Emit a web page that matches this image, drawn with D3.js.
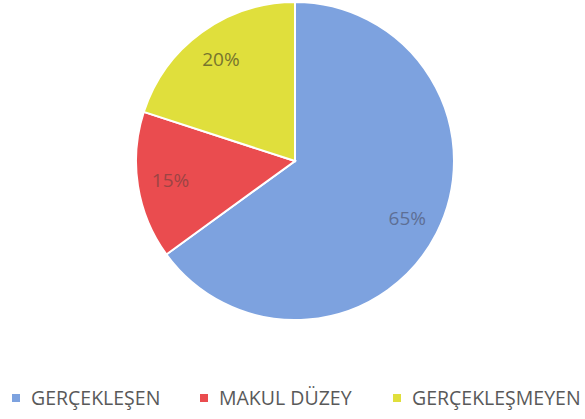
<!DOCTYPE html>
<html>
<head>
<meta charset="utf-8">
<script src="https://cdn.jsdelivr.net/npm/d3@7"></script>
<style>
  body { margin: 0; background: #fff; }
  svg { display: block; }
</style>
</head>
<body>
<svg id="chart" width="585" height="419"></svg>
<script>
const categories = ["GERÇEKLEŞEN", "MAKUL DÜZEY", "GERÇEKLEŞMEYEN"];
const values = [65, 15, 20];
const colors = ["#7da2df", "#ea4c4f", "#e0df3c"];
const labelColors = ["#5d6f95", "#9c4444", "#77752e"];

const svg = d3.select("#chart");
const cx = 295, cy = 161, radius = 159;

const pie = d3.pie().sort(null).value(d => d)(values);
const arc = d3.arc().innerRadius(0).outerRadius(radius);
const labelArc = d3.arc().innerRadius(126).outerRadius(126);

const g = svg.append("g").attr("transform", `translate(${cx},${cy})`);

g.selectAll("path")
  .data(pie)
  .enter().append("path")
  .attr("d", arc)
  .attr("fill", (d, i) => colors[i])
  .attr("stroke", "#fff")
  .attr("stroke-width", 2);

g.selectAll("text")
  .data(pie)
  .enter().append("text")
  .attr("transform", d => `translate(${labelArc.centroid(d)})`)
  .attr("text-anchor", "middle")
  .attr("dy", "0.35em")
  .style("font-family", "'Open Sans', sans-serif")
  .style("font-size", "19px")
  .attr("fill", (d, i) => labelColors[i])
  .text(d => d.data + "%");

// legend
const legendX = [12, 200, 393];
const legend = svg.append("g").attr("transform", "translate(0,398)");
const items = legend.selectAll("g")
  .data(categories)
  .enter().append("g")
  .attr("transform", (d, i) => `translate(${legendX[i]},0)`);

items.append("rect")
  .attr("x", 0).attr("y", -4)
  .attr("width", 8).attr("height", 8)
  .attr("fill", (d, i) => colors[i]);

items.append("text")
  .attr("x", 19)
  .attr("dy", "0.35em")
  .style("font-family", "'Open Sans', sans-serif")
  .style("font-size", "19.5px")
  .attr("fill", "#595959")
  .text(d => d);
</script>
</body>
</html>
